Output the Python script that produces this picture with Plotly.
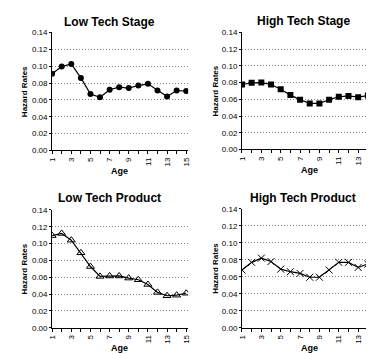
import plotly.graph_objects as go

ages = list(range(1, 16))
low_tech_stage = [0.091, 0.0995, 0.1026, 0.086, 0.067, 0.063, 0.072, 0.075, 0.074, 0.077, 0.079, 0.071, 0.064, 0.071, 0.0705]
high_tech_stage = [0.0777, 0.0797, 0.080, 0.0777, 0.072, 0.065, 0.0596, 0.055, 0.055, 0.0596, 0.063, 0.064, 0.0626, 0.0646, 0.069]
low_tech_product = [0.1094, 0.112, 0.104, 0.089, 0.0727, 0.061, 0.0615, 0.0615, 0.059, 0.057, 0.0514, 0.042, 0.038, 0.0387, 0.041]
high_tech_product = [0.068, 0.077, 0.082, 0.078, 0.069, 0.066, 0.064, 0.0595, 0.0595, 0.068, 0.077, 0.077, 0.071, 0.075, 0.081]
titles = ["Low Tech Stage", "High Tech Stage", "Low Tech Product", "High Tech Product"]
y_ticks = [0.0, 0.02, 0.04, 0.06, 0.08, 0.10, 0.12, 0.14]
x_tick_text = [str(a) if a % 2 == 1 else "" for a in ages]

W, H = 374, 354
FONT = "Liberation Sans, Arial, sans-serif"

series = [low_tech_stage, high_tech_stage, low_tech_product, high_tech_product]
markers = [
    dict(symbol="circle", size=6, color="black"),
    dict(symbol="square", size=6, color="black"),
    dict(symbol="triangle-up-open", size=7, color="black", line=dict(width=1, color="black")),
    dict(symbol="x-thin-open", size=7, color="black", line=dict(width=1, color="black")),
]
# pixel layouts: (x0, x1, ytop, ybottom, xmax)
panels = [
    (41, 180, 21, 142, 15.2),
    (235, 374, 21, 141, 15.05),
    (41, 180, 203, 324, 15.2),
    (235, 374, 202, 324, 15.05),
]
title_pos = [(100, 10), (298, 9), (100, 191), (297, 191)]
ytitle_x = [13, 208, 13, 208]

fig = go.Figure()
annotations = []
for i, (ys, mk, (x0, x1, yt, yb, xmax)) in enumerate(zip(series, markers, panels)):
    n = i + 1
    xa = "x" if n == 1 else f"x{n}"
    ya = "y" if n == 1 else f"y{n}"
    fig.add_trace(go.Scatter(x=ages, y=ys, mode="lines+markers", xaxis=xa, yaxis=ya,
                             line=dict(color="black", width=1.2), marker=mk, showlegend=False))
    xk = "xaxis" if n == 1 else f"xaxis{n}"
    yk = "yaxis" if n == 1 else f"yaxis{n}"
    fig.layout[xk] = dict(domain=[x0 / W, x1 / W], range=[1, xmax], anchor=ya,
                          tickvals=ages, ticktext=x_tick_text, tickangle=-90,
                          ticks="outside", ticklen=3, tickcolor="black",
                          ticklabeloverflow="allow",
                          showline=True, linecolor="black", linewidth=1,
                          showgrid=False, zeroline=False,
                          tickfont=dict(size=8, family=FONT, color="black"))
    fig.layout[yk] = dict(domain=[1 - yb / H, 1 - yt / H], range=[0, 0.14], anchor=xa,
                          tickvals=y_ticks, ticktext=[f"{v:.2f}" for v in y_ticks],
                          ticks="outside", ticklen=2, tickcolor="black",
                          showline=True, linecolor="black", linewidth=1,
                          showgrid=True, gridcolor="#888", griddash="1px,2px", gridwidth=1,
                          zeroline=False,
                          tickfont=dict(size=8, family=FONT, color="black"))
    tx, ty = title_pos[i]
    annotations.append(dict(text=f"<b>{titles[i]}</b>", x=tx / W, y=1 - ty / H, xref="paper", yref="paper",
                            showarrow=False, xanchor="center", yanchor="middle",
                            font=dict(size=12, family=FONT, color="black")))
    annotations.append(dict(text="<b>Hazard Rates</b>", x=ytitle_x[i] / W, y=1 - ((yt + yb) / 2) / H,
                            xref="paper", yref="paper", showarrow=False, textangle=-90,
                            xanchor="center", yanchor="middle",
                            font=dict(size=8, family=FONT, color="black")))
    annotations.append(dict(text="<b>Age</b>", x=((x0 + 178) / 2 if n in (1, 3) else (x0 + 374) / 2) / W,
                            y=1 - (yb + 21) / H, xref="paper", yref="paper", showarrow=False,
                            xanchor="center", yanchor="middle",
                            font=dict(size=9, family=FONT, color="black")))

fig.update_layout(width=W, height=H, margin=dict(l=0, r=0, t=0, b=0),
                  plot_bgcolor="white", paper_bgcolor="white", annotations=annotations)
fig.write_html("out.html")
